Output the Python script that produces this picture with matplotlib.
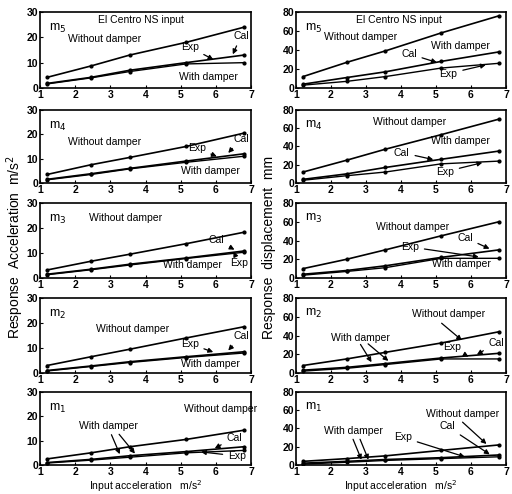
import matplotlib
matplotlib.use("Agg")
import matplotlib.pyplot as plt

plt.rcParams['font.family'] = ['Liberation Sans', 'DejaVu Sans']

x = [1.2, 2.45, 3.55, 5.15, 6.8]

# Acceleration (m/s^2), masses m5..m1
acc_without = {
    5: [4.2, 8.7, 13.0, 18.0, 24.0],
    4: [3.5, 7.5, 10.5, 15.0, 20.5],
    3: [3.2, 6.7, 9.5, 13.7, 18.3],
    2: [3.0, 6.5, 9.5, 14.0, 18.5],
    1: [2.5, 5.0, 7.5, 10.5, 14.3],
}
acc_cal = {
    5: [1.8, 4.2, 7.0, 10.0, 13.0],
    4: [1.5, 3.8, 6.0, 9.0, 12.0],
    3: [1.5, 3.5, 5.5, 8.0, 10.8],
    2: [1.0, 2.8, 4.5, 6.5, 8.5],
    1: [1.0, 2.3, 3.8, 5.5, 7.5],
}
acc_exp = {
    5: [1.6, 4.0, 6.5, 9.5, 10.0],
    4: [1.3, 3.5, 5.8, 8.5, 11.0],
    3: [1.3, 3.3, 5.2, 7.8, 10.3],
    2: [0.8, 2.6, 4.2, 6.2, 8.0],
    1: [0.8, 2.0, 3.2, 5.0, 6.0],
}
# Displacement (mm)
dis_without = {
    5: [12, 27, 39, 58, 76],
    4: [12, 25, 37, 53, 70],
    3: [10, 20, 30, 45, 60],
    2: [8, 15, 22, 32, 44],
    1: [4, 7, 10, 16, 22],
}
dis_cal = {
    5: [4, 11, 17, 28, 38],
    4: [4, 10, 17, 26, 35],
    3: [4, 8, 13, 22, 30],
    2: [3, 6, 10, 16, 21],
    1: [2, 4, 6, 8, 11],
}
dis_exp = {
    5: [3, 7, 12, 21, 26],
    4: [3, 8, 12, 21, 24],
    3: [3, 7, 11, 21, 21],
    2: [2, 5, 9, 15, 15],
    1: [1, 3, 5, 7, 9],
}

mass_labels = {5: 'm$_5$', 4: 'm$_4$', 3: 'm$_3$', 2: 'm$_2$', 1: 'm$_1$'}

W, H = 512, 494
fig = plt.figure(figsize=(W / 100, H / 100), dpi=100)

rows_px = [(12, 88), (110, 183), (203, 278), (298, 373), (392, 465)]
cols_px = [(40, 251), (296, 506)]

FS = 7.5
arrow = dict(arrowstyle='-|>', color='black', lw=0.9, mutation_scale=7)


def make_ax(col, row):
    x0, x1 = cols_px[col]
    y0, y1 = rows_px[row]
    return fig.add_axes([x0 / W, 1 - y1 / H, (x1 - x0) / W, (y1 - y0) / H])


def style(ax, ymax, yticks):
    ax.set_xlim(1, 7)
    ax.set_ylim(0, ymax)
    ax.set_xticks(range(1, 8))
    ax.set_yticks(yticks)
    ax.tick_params(direction='in', length=2.5, width=0.8, labelsize=7.5, pad=1.5)
    for s in ax.spines.values():
        s.set_linewidth(1.2)
    for lab in ax.get_xticklabels() + ax.get_yticklabels():
        lab.set_fontweight('bold')


def draw(ax, w, c, e):
    ax.plot(x, w, color='black', lw=1.2, marker='o', ms=2)
    ax.plot(x, c, color='black', lw=1.2, marker='o', ms=2)
    ax.plot(x, e, color='black', lw=1.0, marker='o', ms=2)


masses = [5, 4, 3, 2, 1]
for r, m in enumerate(masses):
    # Left: acceleration
    ax = make_ax(0, r)
    draw(ax, acc_without[m], acc_cal[m], acc_exp[m])
    style(ax, 30, [0, 10, 20, 30])
    ax.text(1.25, 26, mass_labels[m], fontsize=9, va='top')
    # Right: displacement
    bx = make_ax(1, r)
    draw(bx, dis_without[m], dis_cal[m], dis_exp[m])
    style(bx, 80, [0, 20, 40, 60, 80])
    bx.text(1.25, 70, mass_labels[m], fontsize=9, va='top')

    if m == 5:
        ax.text(2.65, 27, 'El Centro NS input', fontsize=FS, va='center')
        ax.text(1.8, 19.5, 'Without damper', fontsize=FS, va='center')
        ax.text(4.95, 4.3, 'With damper', fontsize=FS, va='center')
        ax.annotate('Cal', xy=(6.45, 12.3), xytext=(6.5, 19.5), fontsize=FS, arrowprops=arrow)
        ax.annotate('Exp', xy=(6.0, 10.7), xytext=(5.0, 15), fontsize=FS, arrowprops=arrow)
        bx.text(2.7, 72, 'El Centro NS input', fontsize=FS, va='center')
        bx.text(1.8, 54, 'Without damper', fontsize=FS, va='center')
        bx.text(4.85, 44, 'With damper', fontsize=FS, va='center')
        bx.annotate('Cal', xy=(5.1, 26), xytext=(4.0, 33), fontsize=FS, arrowprops=arrow)
        bx.annotate('Exp', xy=(6.5, 25), xytext=(5.1, 12), fontsize=FS, arrowprops=arrow)
    elif m == 4:
        ax.text(1.8, 17, 'Without damper', fontsize=FS, va='center')
        ax.text(5.0, 5, 'With damper', fontsize=FS, va='center')
        ax.annotate('Cal', xy=(6.3, 11.5), xytext=(6.5, 17), fontsize=FS, arrowprops=arrow)
        ax.annotate('Exp', xy=(6.1, 10.5), xytext=(5.2, 13), fontsize=FS, arrowprops=arrow)
        bx.text(3.2, 67, 'Without damper', fontsize=FS, va='center')
        bx.text(4.85, 46, 'With damper', fontsize=FS, va='center')
        bx.annotate('Cal', xy=(5.0, 25), xytext=(3.8, 30), fontsize=FS, arrowprops=arrow)
        bx.annotate('Exp', xy=(6.4, 23), xytext=(5.0, 9), fontsize=FS, arrowprops=arrow)
    elif m == 3:
        ax.text(2.4, 24, 'Without damper', fontsize=FS, va='center')
        ax.text(4.5, 5, 'With damper', fontsize=FS, va='center')
        ax.annotate('Cal', xy=(6.6, 10.8), xytext=(5.8, 14), fontsize=FS, arrowprops=arrow)
        ax.annotate('Exp', xy=(6.5, 10.5), xytext=(6.4, 4.8), fontsize=FS, arrowprops=arrow)
        bx.text(3.3, 54, 'Without damper', fontsize=FS, va='center')
        bx.text(4.9, 15, 'With damper', fontsize=FS, va='center')
        bx.annotate('Cal', xy=(6.6, 30), xytext=(5.6, 40), fontsize=FS, arrowprops=arrow)
        bx.annotate('Exp', xy=(6.3, 22), xytext=(4.0, 30), fontsize=FS, arrowprops=arrow)
    elif m == 2:
        ax.text(2.6, 17.5, 'Without damper', fontsize=FS, va='center')
        ax.text(5.0, 3.5, 'With damper', fontsize=FS, va='center')
        ax.annotate('Cal', xy=(6.3, 8.2), xytext=(6.5, 13.5), fontsize=FS, arrowprops=arrow)
        ax.annotate('Exp', xy=(6.0, 8.0), xytext=(5.0, 10.5), fontsize=FS, arrowprops=arrow)
        bx.text(4.3, 63, 'Without damper', fontsize=FS, va='center')
        bx.annotate('', xy=(5.8, 33), xytext=(5.1, 55), arrowprops=arrow)
        bx.text(2.0, 37, 'With damper', fontsize=FS, va='center')
        bx.annotate('', xy=(3.2, 9), xytext=(2.8, 33), arrowprops=arrow)
        bx.annotate('', xy=(3.7, 11), xytext=(3.0, 33), arrowprops=arrow)
        bx.annotate('Cal', xy=(6.1, 18), xytext=(6.5, 29), fontsize=FS, arrowprops=arrow)
        bx.annotate('Exp', xy=(6.0, 16), xytext=(5.2, 24), fontsize=FS, arrowprops=arrow)
    elif m == 1:
        ax.text(5.1, 23, 'Without damper', fontsize=FS, va='center')
        ax.text(2.1, 16, 'With damper', fontsize=FS, va='center')
        ax.annotate('', xy=(3.3, 3.4), xytext=(3.0, 13.5), arrowprops=arrow)
        ax.annotate('', xy=(3.75, 3.8), xytext=(3.2, 13.5), arrowprops=arrow)
        ax.annotate('Cal', xy=(5.9, 6.3), xytext=(6.3, 10), fontsize=FS, arrowprops=arrow)
        ax.annotate('Exp', xy=(5.5, 5.5), xytext=(6.35, 2.5), fontsize=FS, arrowprops=arrow)
        bx.text(4.7, 56, 'Without damper', fontsize=FS, va='center')
        bx.annotate('', xy=(6.5, 21), xytext=(5.7, 49), arrowprops=arrow)
        bx.text(1.8, 37, 'With damper', fontsize=FS, va='center')
        bx.annotate('', xy=(2.9, 3), xytext=(2.6, 31), arrowprops=arrow)
        bx.annotate('', xy=(3.1, 3), xytext=(2.8, 31), arrowprops=arrow)
        bx.annotate('Cal', xy=(6.6, 10), xytext=(5.1, 39), fontsize=FS, arrowprops=arrow)
        bx.annotate('Exp', xy=(5.9, 8), xytext=(3.8, 27), fontsize=FS, arrowprops=arrow)

fig.text((40 + 251) / 2 / W, 0.5 / H, 'Input acceleration   m/s$^2$', fontsize=7.5,
         ha='center', va='bottom')
fig.text((296 + 506) / 2 / W, 0.5 / H, 'Input acceleration   m/s$^2$', fontsize=7.5,
         ha='center', va='bottom')

fig.text(0.008, 0.5, 'Response  Acceleration  m/s$^2$', rotation=90, fontsize=10,
         va='center', ha='left')
fig.text(0.512, 0.5, 'Response  displacement  mm', rotation=90, fontsize=10,
         va='center', ha='left')

fig.savefig('out.png', dpi=100)
